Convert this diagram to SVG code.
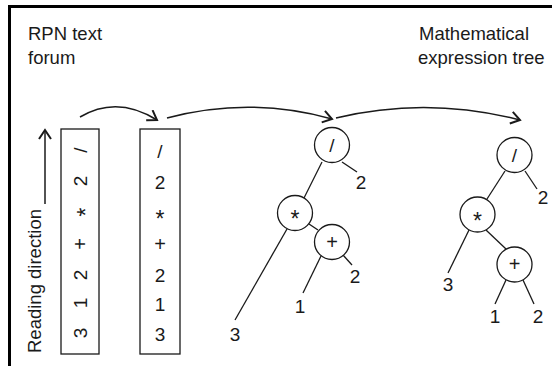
<svg xmlns="http://www.w3.org/2000/svg" width="552" height="366" viewBox="0 0 552 366">
<defs>
<style>
text{font-family:"Liberation Sans",Arial,sans-serif;fill:#1a1a1a}
.t{font-size:18.5px}
.c{font-size:19px;text-anchor:middle}
.p{font-size:20px}
.s{font-size:23px}
.node circle{fill:#fff;stroke:#1a1a1a;stroke-width:1.3}
.edge{stroke:#1a1a1a;stroke-width:1.3;fill:none}
.box{fill:#fff;stroke:#1a1a1a;stroke-width:1.3}
.arc{fill:none;stroke:#1a1a1a;stroke-width:1.5}
</style>
<marker id="ah" viewBox="-11 -7 13 14" markerWidth="13" markerHeight="14" refX="0" refY="0" orient="auto" markerUnits="userSpaceOnUse">
<path d="M-9,-6 L0,0 L-9,6" fill="none" stroke="#1a1a1a" stroke-width="2"/>
</marker>
</defs>
<rect width="552" height="366" fill="#fff"/>
<g id="frame">
<path d="M9.5,366 V6.5 H552" fill="none" stroke="#000" stroke-width="3"/>
</g>
<g id="titles">
<text class="t" x="28" y="40">RPN text</text>
<text class="t" x="28" y="63.5">forum</text>
<text class="t" x="419" y="40">Mathematical</text>
<text class="t" x="418" y="63.5">expression tree</text>
</g>
<g id="reading">
<text class="t" transform="translate(41,353) rotate(-90)">Reading direction</text>
</g>
<g id="rpn-rotated">
<rect class="box" x="61" y="129" width="38" height="225"/>
<g class="c">
<text transform="translate(80,150) rotate(-90)" dy="0.35em">/</text>
<text transform="translate(80,181) rotate(-90)" dy="0.35em">2</text>
<text class="s" transform="translate(80,212) rotate(-90)" dy="0.62em">*</text>
<text class="p" transform="translate(80,244) rotate(-90)" dy="0.33em">+</text>
<text transform="translate(80,275) rotate(-90)" dy="0.35em">2</text>
<text transform="translate(80,303) rotate(-90)" dy="0.35em">1</text>
<text transform="translate(80,333) rotate(-90)" dy="0.35em">3</text>
</g>
</g>
<g id="rpn-upright">
<rect class="box" x="140" y="129" width="40" height="225"/>
<g class="c">
<text x="160" y="151" dy="0.35em">/</text>
<text x="160" y="182" dy="0.35em">2</text>
<text class="s" x="160" y="213" dy="0.62em">*</text>
<text class="p" x="160" y="244" dy="0.33em">+</text>
<text x="160" y="275" dy="0.35em">2</text>
<text x="160" y="304" dy="0.35em">1</text>
<text x="160" y="334" dy="0.35em">3</text>
</g>
</g>
<g id="connectors">
<path class="arc" d="M45,204 V130" marker-end="url(#ah)"/>
<path class="arc" d="M80,117 Q117,95 157,120" marker-end="url(#ah)"/>
<path class="arc" d="M167,118 Q250,96 332,119" marker-end="url(#ah)"/>
<path class="arc" d="M336,118 Q427,96 520,120" marker-end="url(#ah)"/>
<g id="tree1-edges">
<line class="edge" x1="342" y1="162" x2="357" y2="172"/>
<line class="edge" x1="322" y1="162" x2="304" y2="198"/>
<line class="edge" x1="309" y1="224" x2="318" y2="230"/>
<line class="edge" x1="343" y1="255" x2="352" y2="265"/>
<line class="edge" x1="321" y1="256" x2="303" y2="293"/>
<line class="edge" x1="287" y1="229" x2="235" y2="320"/>
</g>
<g id="tree2-edges">
<line class="edge" x1="525" y1="171" x2="537" y2="189"/>
<line class="edge" x1="505" y1="171" x2="487" y2="199"/>
<line class="edge" x1="486" y1="230" x2="506" y2="249"/>
<line class="edge" x1="469" y1="230" x2="448" y2="273"/>
<line class="edge" x1="506" y1="280" x2="495" y2="304"/>
<line class="edge" x1="523" y1="280" x2="534" y2="304"/>
</g>
</g>
<g id="t1-div" class="node"><circle cx="332" cy="145" r="17.5"/><text class="c" x="332" y="145" dy="0.35em">/</text></g>
<g id="t1-mul" class="node"><circle cx="295" cy="213" r="17.5"/><text class="c s" x="295" y="213" dy="0.62em">*</text></g>
<g id="t1-add" class="node"><circle cx="332" cy="242" r="17.5"/><text class="c p" x="332" y="242" dy="0.33em">+</text></g>
<g id="t1-2a"><text class="c" x="361" y="189">2</text></g>
<g id="t1-2b"><text class="c" x="355" y="283">2</text></g>
<g id="t1-1"><text class="c" x="300" y="313">1</text></g>
<g id="t1-3"><text class="c" x="235" y="341">3</text></g>
<g id="t2-div" class="node"><circle cx="514.5" cy="155" r="17.5"/><text class="c" x="514.5" y="155" dy="0.35em">/</text></g>
<g id="t2-mul" class="node"><circle cx="477.5" cy="214.5" r="17.5"/><text class="c s" x="477.5" y="214.5" dy="0.62em">*</text></g>
<g id="t2-add" class="node"><circle cx="514.5" cy="264.5" r="17.5"/><text class="c p" x="514.5" y="264.5" dy="0.33em">+</text></g>
<g id="t2-2a"><text class="c" x="543" y="204">2</text></g>
<g id="t2-3"><text class="c" x="448" y="291">3</text></g>
<g id="t2-1"><text class="c" x="495" y="323">1</text></g>
<g id="t2-2b"><text class="c" x="538" y="323">2</text></g>
</svg>
